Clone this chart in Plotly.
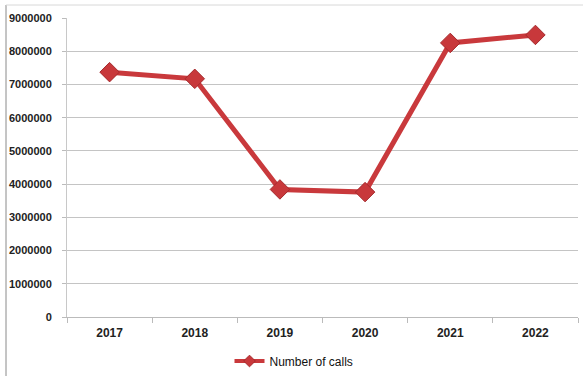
import plotly.graph_objects as go

years = ["2017", "2018", "2019", "2020", "2021", "2022"]
calls = [7370000, 7170000, 3840000, 3760000, 8250000, 8490000]
y_ticks = [0, 1000000, 2000000, 3000000, 4000000, 5000000, 6000000, 7000000, 8000000, 9000000]

W, H = 583, 376
L, R, T, B = 67, 5, 18, 59
pw, ph = W - L - R, H - T - B

def px_x(x):
    return (x - L) / pw

def px_y(y):
    return (H - B - y) / ph

LINE_RED = "#C9393C"

fig = go.Figure()
fig.add_trace(go.Scatter(
    x=years, y=calls, name="Number of calls",
    mode="lines+markers", showlegend=False,
    line=dict(color=LINE_RED, width=5),
    marker=dict(symbol="diamond", size=15, color="#C8383B",
                line=dict(color="#A52A2D", width=1)),
))
# legend entry with a smaller symbol
fig.add_trace(go.Scatter(
    x=[None], y=[None], name="Number of calls",
    mode="lines+markers", showlegend=True,
    line=dict(color=LINE_RED, width=4),
    marker=dict(symbol="diamond", size=9, color="#C8383B",
                line=dict(color="#A52A2D", width=1)),
))

fig.update_layout(
    width=W, height=H,
    margin=dict(l=L, r=R, t=T, b=B, autoexpand=False),
    paper_bgcolor="white", plot_bgcolor="white",
    font=dict(family="Liberation Sans, Arial, sans-serif", size=12, color="#222"),
    showlegend=True,
    legend=dict(orientation="h", x=px_x(294), xanchor="center",
                y=px_y(361), yanchor="middle",
                font=dict(size=12, color="#111"),
                itemwidth=30, bgcolor="rgba(0,0,0,0)"),
    xaxis=dict(
        type="category", tickson="boundaries", ticks="outside", ticklen=5,
        tickcolor="#BBBBBB", showline=True, linecolor="#BBBBBB", linewidth=1,
        showgrid=False, tickfont=dict(size=12, color="#222", weight="bold"),
        ticklabelstandoff=5,
        range=[-0.5, 5.5], fixedrange=True,
    ),
    yaxis=dict(
        range=[0, 9000000], tickvals=y_ticks, ticktext=[str(v) for v in y_ticks],
        ticks="outside", ticklen=4, tickcolor="#BBBBBB",
        showline=True, linecolor="#C8C8C8", linewidth=1,
        showgrid=True, gridcolor="#C4C4C4", gridwidth=1,
        zeroline=False, ticklabelstandoff=8,
        tickfont=dict(size=11, color="#222", weight="bold"),
        fixedrange=True,
    ),
    shapes=[
        # outer frame: left and top edges
        dict(type="line", xref="paper", yref="paper",
             x0=px_x(6), x1=px_x(6), y0=px_y(5), y1=px_y(376),
             line=dict(color="#8A8A8A", width=1)),
        dict(type="line", xref="paper", yref="paper",
             x0=px_x(6), x1=px_x(583), y0=px_y(5), y1=px_y(5),
             line=dict(color="#D8D8D8", width=1)),
    ],
)

fig.write_html("out.html")
